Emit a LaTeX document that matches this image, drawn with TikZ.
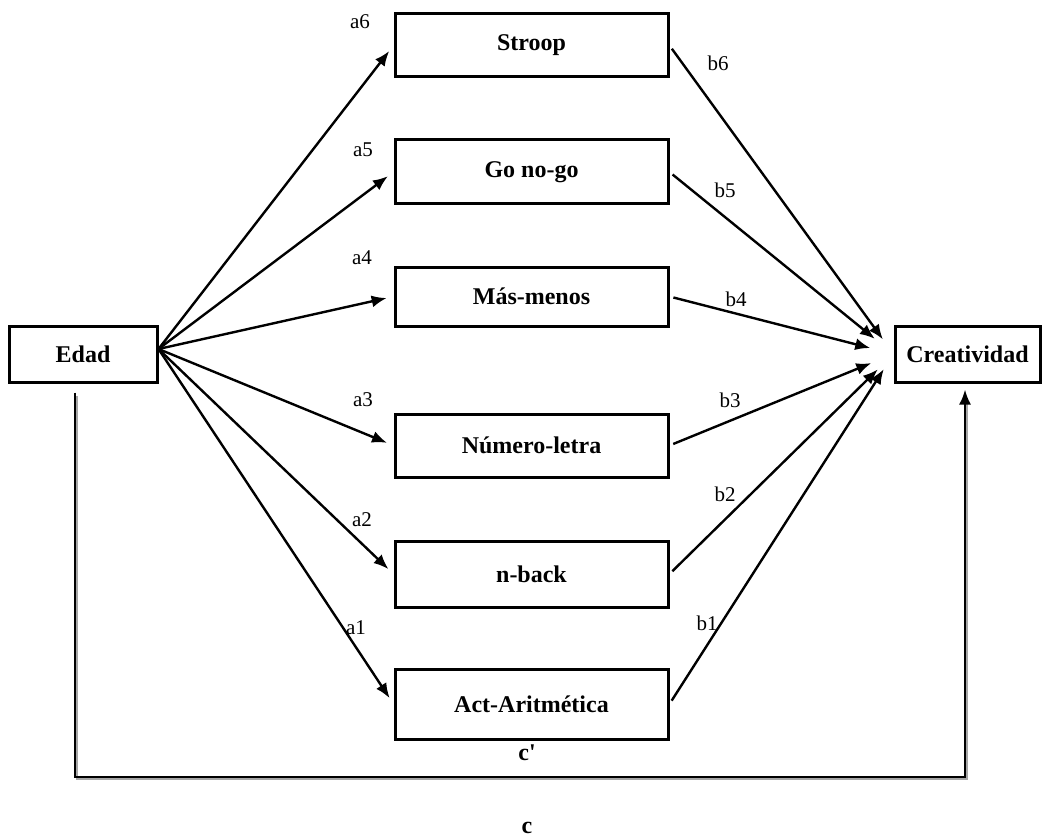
\documentclass[tikz,border=0pt]{standalone}
\usepackage{fontspec}
\setmainfont{Liberation Serif}
\usetikzlibrary{arrows.meta}
\begin{document}
\begin{tikzpicture}[x=1pt,y=-1pt,
  box/.style={draw, line width=3pt, inner sep=0pt, minimum width=273pt,
    font=\fontsize{24}{24}\selectfont\bfseries},
  arr/.style={line width=2.4pt, -{Latex[length=15pt,width=12pt]}},
  lbl/.style={font=\fontsize{21}{21}\selectfont, inner sep=0pt},
  blbl/.style={font=\fontsize{24}{24}\selectfont\bfseries, inner sep=0pt}]
\useasboundingbox (0,0) rectangle (1044,837);

% predictor and outcome
\node[box, minimum width=148pt, minimum height=56pt] (edad) at (83,354) {Edad};
\node[box, minimum width=145pt, minimum height=56pt] (crea) at (967.5,354) {Creatividad};

% mediators
\node[box, minimum height=63pt] (stroop) at (531.5,45.5)  {Stroop};
\node[box, minimum height=64pt] (gonogo) at (531.5,172)   {Go no-go};
\node[box, minimum height=59pt] (masmen) at (531.5,296.5) {Más-menos};
\node[box, minimum height=63pt] (numlet) at (531.5,445.5) {Número-letra};
\node[box, minimum height=66pt] (nback)  at (531.5,574)   {n-back};
\node[box, minimum height=70pt] (arit)   at (531.5,704)   {Act-Aritmética};

% a paths
\coordinate (src) at ([yshift=5pt]edad.east);
\foreach \m in {stroop,gonogo,masmen,numlet,nback,arit}
  \draw[arr, shorten >=7pt] (src) -- (\m.west);

% b paths
\foreach \m/\s in {stroop/18pt,gonogo/24pt,masmen/24pt,numlet/24pt,nback/22pt,arit/18pt}
  \draw[arr, shorten <=4pt, shorten >=\s] (\m.east) -- (crea.west);

% direct path c, with its faint drop shadow
\coordinate (cb) at (520,777);
\coordinate (cs) at (521.5,779);
\draw[line width=2pt, black!35]
  ([xshift=-6.5pt,yshift=-12pt]edad.south) |- (cs)
  -| ([xshift=-1pt,yshift=-20pt]crea.south);
\draw[arr] ([xshift=-8pt,yshift=-9pt]edad.south) |- (cb)
  -| ([xshift=-2.5pt,yshift=-6pt]crea.south);

% path labels
\node[lbl] (la6) at (360,22)  {a6};
\node[lbl] (la5) at (363,150) {a5};
\node[lbl] (la4) at (362,258) {a4};
\node[lbl] (la3) at (363,400) {a3};
\node[lbl] (la2) at (362,520) {a2};
\node[lbl] (la1) at (356,628) {a1};
\node[lbl] (lb6) at (718,63)  {b6};
\node[lbl] (lb5) at (725,190) {b5};
\node[lbl] (lb4) at (736,299) {b4};
\node[lbl] (lb3) at (730,400) {b3};
\node[lbl] (lb2) at (725,494) {b2};
\node[lbl] (lb1) at (707,623) {b1};
\node[blbl] (lcp) at (527,753) {\addfontfeatures{Ligatures=TeXOff}c'};
\node[blbl] (lc)  at (527,828) {c};
\end{tikzpicture}
\end{document}
